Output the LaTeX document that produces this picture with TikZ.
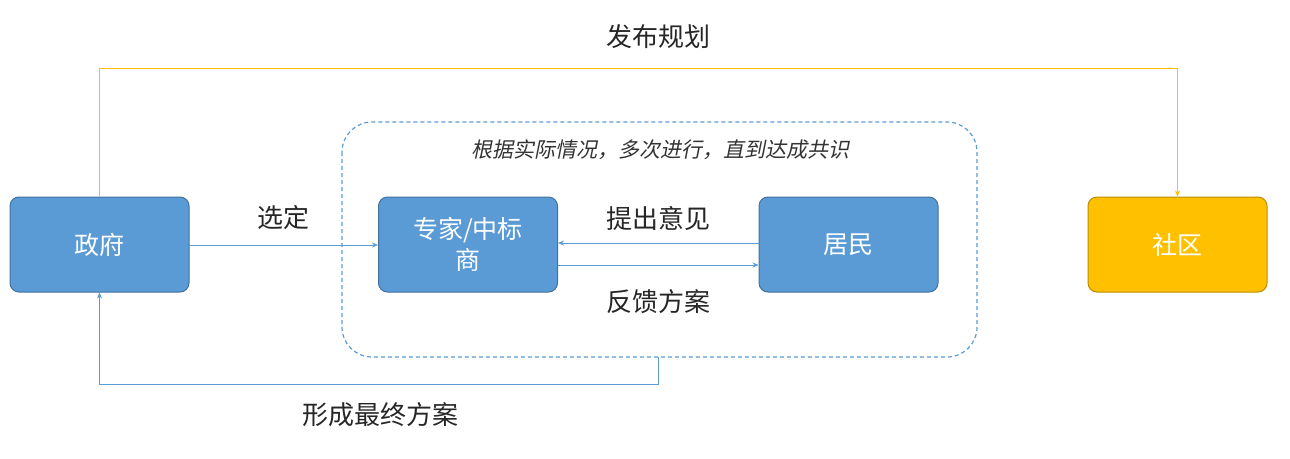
\documentclass[tikz,border=0pt]{standalone}
\usepackage{fontspec}
\setmainfont{Noto Sans CJK SC}
\newfontfamily\slantcjk[FakeSlant=0.2]{Noto Sans CJK SC}
\usetikzlibrary{arrows.meta}
\definecolor{bfill}{HTML}{5B9BD5}
\definecolor{bdraw}{HTML}{41719C}
\definecolor{yfill}{HTML}{FFC000}
\definecolor{ydraw}{HTML}{BC8C00}
\definecolor{lblue}{HTML}{5B9BD5}
\begin{document}
\begin{tikzpicture}[x=1pt,y=-1pt,
  box/.style={draw=bdraw,fill=bfill,rounded corners=9pt,minimum width=179pt,minimum height=95pt,text=white,font=\fontsize{25}{31}\selectfont,align=center,line width=1pt},
  ybox/.style={box,draw=ydraw,fill=yfill},
  con/.style={draw=lblue,line width=0.7pt,-{Stealth[length=6pt,width=5pt]}},
  lab/.style={font=\fontsize{26}{30}\selectfont,text=black!85}]
\useasboundingbox (0,0) rectangle (1290,458);
\draw[lblue,dash pattern=on 4pt off 3pt,line width=1.2pt,rounded corners=30pt] (342,122) rectangle (977,357);
\node[font=\slantcjk\fontsize{21}{24}\selectfont,text=black!80] (note) at (660,150) {根据实际情况，多次进行，直到达成共识};
\node[box] (gov) at (99.5,244.5) {政府};
\node[box] (exp) at (468,244.5) {专家/中标\\商};
\node[box] (res) at (848.5,244.5) {居民};
\node[ybox] (com) at (1177.5,244.5) {社区};
\coordinate (db) at (658,357);
\draw[draw=yfill,line width=0.8pt,-{Stealth[length=6pt,width=5pt]}] (gov.north) -- (99.5,68) -- (1177.5,68) -- (com.north);
\node[lab] (l1) at (658,37) {发布规划};
\draw[con] (gov.east |- 0,245) -- (exp.west |- 0,245);
\node[lab] (l2) at (283,218) {选定};
\draw[con] (res.west |- 0,243) -- (exp.east |- 0,243);
\node[lab] (l3) at (658,218) {提出意见};
\draw[con] (exp.east |- 0,265) -- (res.west |- 0,265);
\node[lab] (l4) at (658,302) {反馈方案};
\draw[con] (db) -- (658,384) -- (99.5,384) -- (gov.south);
\node[lab] (l5) at (380,415) {形成最终方案};
\end{tikzpicture}
\end{document}
